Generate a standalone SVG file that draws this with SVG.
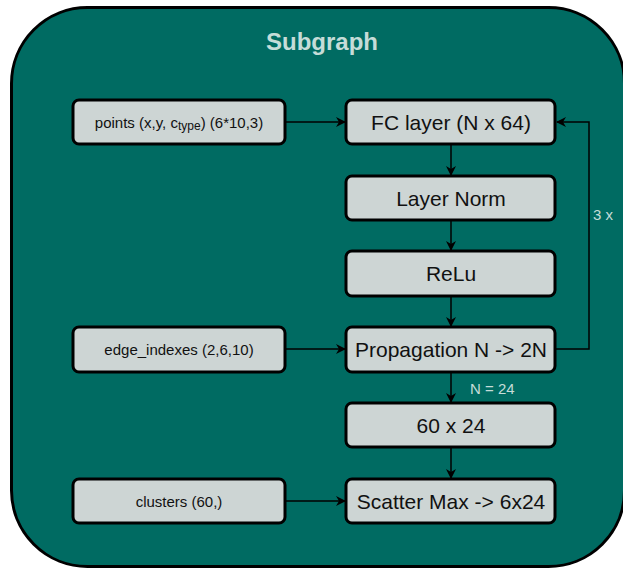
<svg xmlns="http://www.w3.org/2000/svg" width="623" height="569" viewBox="0 0 623 569">
  <style>
    .box { fill: #cdd5d4; stroke: #000; stroke-width: 3; }
    .big { font-family: "Liberation Sans", Arial, sans-serif; font-size: 21px; fill: #111; text-anchor: middle; dominant-baseline: central; }
    .small { font-family: "Liberation Sans", Arial, sans-serif; font-size: 15px; fill: #111; text-anchor: middle; dominant-baseline: central; }
    .lbl { font-family: "Liberation Sans", Arial, sans-serif; font-size: 15px; fill: #c5dcd8; }
    .edge { fill: none; stroke: #000; stroke-width: 1.5; marker-end: url(#arrow); }
  </style>
  <defs>
    <marker id="arrow" viewBox="0 0 10 10" refX="9" refY="5" markerWidth="10" markerHeight="10" markerUnits="userSpaceOnUse" orient="auto">
      <path d="M0,0 L10,5 L0,10 L3,5 Z" fill="#000"/>
    </marker>
  </defs>

  <!-- container -->
  <g id="subgraph">
    <rect x="11.5" y="7.5" width="613" height="559" rx="76" ry="76" fill="#006b62" stroke="#000" stroke-width="3"/>
    <text x="322" y="50" font-family="Liberation Sans, Arial, sans-serif" font-size="24" font-weight="bold" fill="#c5dcd8" text-anchor="middle">Subgraph</text>
  </g>

  <!-- connectors -->
  <g id="connectors">
    <path class="edge" d="M285,122 L345,122"/>
    <path class="edge" d="M451,144 L451,175"/>
    <path class="edge" d="M451,220 L451,250"/>
    <path class="edge" d="M451,296 L451,326"/>
    <path class="edge" d="M285,349 L345,349"/>
    <path class="edge" d="M555,349 L589,349 L589,122 L557,122"/>
    <path class="edge" d="M451,372 L451,402"/>
    <path class="edge" d="M451,447 L451,478"/>
    <path class="edge" d="M285,501 L345,501"/>
    <text class="lbl" x="593" y="220">3 x</text>
    <text class="lbl" x="470" y="394">N = 24</text>
  </g>

  <g id="points">
    <rect class="box" x="73" y="100" width="212" height="44" rx="6"/>
    <text class="small" x="179" y="122">points (x,y, c<tspan font-size="12" dy="4">type</tspan><tspan dy="-4">) (6*10,3)</tspan></text>
  </g>
  <g id="fc">
    <rect class="box" x="346" y="100" width="209" height="44" rx="6"/>
    <text class="big" x="451" y="122">FC layer (N x 64)</text>
  </g>
  <g id="layernorm">
    <rect class="box" x="346" y="176" width="209" height="44" rx="6"/>
    <text class="big" x="451" y="198">Layer Norm</text>
  </g>
  <g id="relu">
    <rect class="box" x="346" y="251" width="209" height="45" rx="6"/>
    <text class="big" x="451" y="273">ReLu</text>
  </g>
  <g id="propagation">
    <rect class="box" x="346" y="327" width="209" height="45" rx="6"/>
    <text class="big" x="451" y="349">Propagation N -&gt; 2N</text>
  </g>
  <g id="edge_indexes">
    <rect class="box" x="73" y="327" width="212" height="45" rx="6"/>
    <text class="small" x="179" y="349">edge_indexes (2,6,10)</text>
  </g>
  <g id="dims">
    <rect class="box" x="346" y="403" width="209" height="44" rx="6"/>
    <text class="big" x="451" y="425">60 x 24</text>
  </g>
  <g id="clusters">
    <rect class="box" x="73" y="479" width="212" height="44" rx="6"/>
    <text class="small" x="179" y="501">clusters (60,)</text>
  </g>
  <g id="scatter">
    <rect class="box" x="346" y="479" width="209" height="44" rx="6"/>
    <text class="big" x="451" y="501">Scatter Max -&gt; 6x24</text>
  </g>
</svg>
